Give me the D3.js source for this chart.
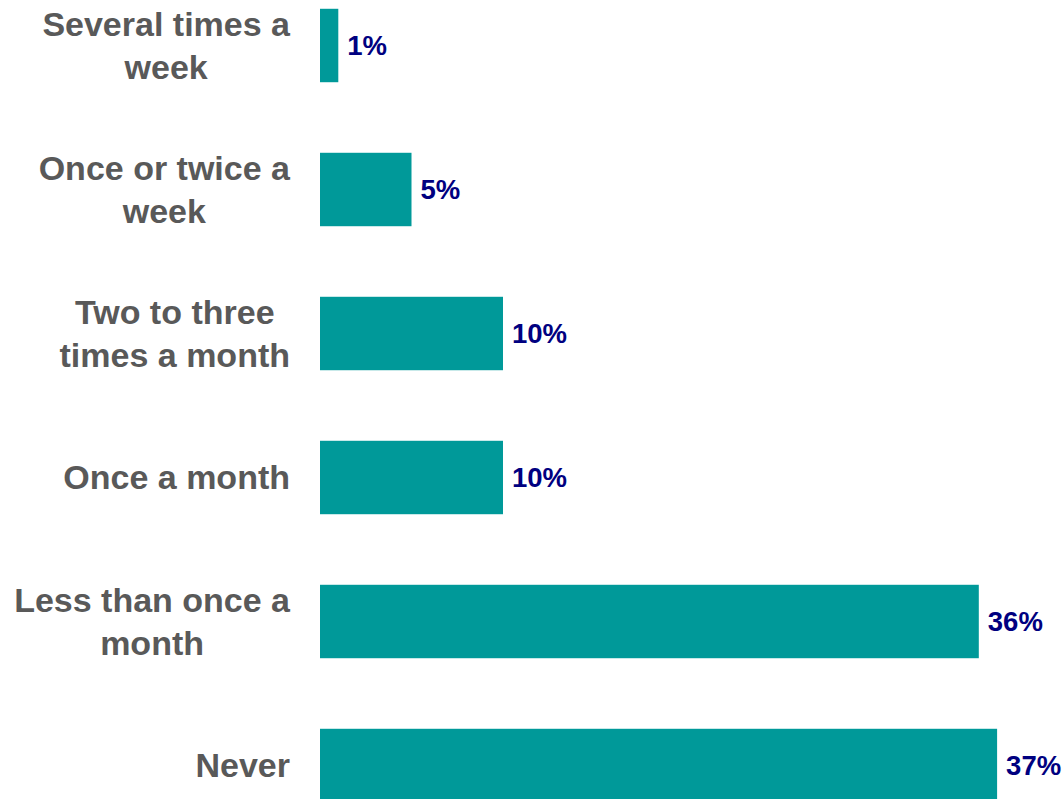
<!DOCTYPE html>
<html>
<head>
<meta charset="utf-8">
<script src="https://cdn.jsdelivr.net/npm/d3@7"></script>
<style>
  html, body { margin: 0; padding: 0; background: #ffffff; }
  svg { display: block; }
  text { font-family: "Liberation Sans", Arial, Helvetica, sans-serif; font-weight: bold; }
</style>
</head>
<body>
<svg id="chart" width="1064" height="799"></svg>
<script>
// Frequency categories (line breaks as shown on the axis)
const categories = [
  "Several times a\nweek",
  "Once or twice a\nweek",
  "Two to three\ntimes a month",
  "Once a month",
  "Less than once a\nmonth",
  "Never"
];
// Share of respondents, percent
const values = [1, 5, 10, 10, 36, 37];
const valueLabels = ["1%", "5%", "10%", "10%", "36%", "37%"];

const svg = d3.select("#chart");

const x = d3.scaleLinear().domain([0, 40]).range([320, 1052]);
const y = d3.scaleBand()
  .domain(categories)
  .range([-26.5, 837.5])
  .paddingInner(0.49)
  .paddingOuter(0.245);

const rows = categories.map((c, i) => ({ cat: c, value: values[i], label: valueLabels[i] }));

// Bars
svg.append("g").selectAll("rect")
  .data(rows)
  .join("rect")
  .attr("x", x(0))
  .attr("y", d => y(d.cat))
  .attr("width", d => x(d.value) - x(0))
  .attr("height", y.bandwidth())
  .attr("fill", "#009999");

// Value labels
const valueSize = 27.5;
svg.append("g").selectAll("text")
  .data(rows)
  .join("text")
  .attr("x", d => x(d.value) + 9)
  .attr("y", d => y(d.cat) + y.bandwidth() / 2 + valueSize * 0.36)
  .attr("font-size", valueSize)
  .attr("fill", "#000080")
  .text(d => d.label);

// Category labels: block right-aligned to the axis, lines centred within the block
const catSize = 34, lineGap = 43, rightEdge = 290;
const catG = svg.append("g");
rows.forEach(d => {
  const lines = d.cat.split("\n");
  const cy = y(d.cat) + y.bandwidth() / 2;
  const g = catG.append("g");
  const texts = lines.map((ln, j) => g.append("text")
    .attr("font-size", catSize)
    .attr("fill", "#595959")
    .attr("text-anchor", "middle")
    .attr("y", cy + catSize * 0.35 + (j - (lines.length - 1) / 2) * lineGap)
    .text(ln));
  const maxW = d3.max(texts, t => t.node().getComputedTextLength());
  texts.forEach(t => t.attr("x", rightEdge - maxW / 2));
});
</script>
</body>
</html>
